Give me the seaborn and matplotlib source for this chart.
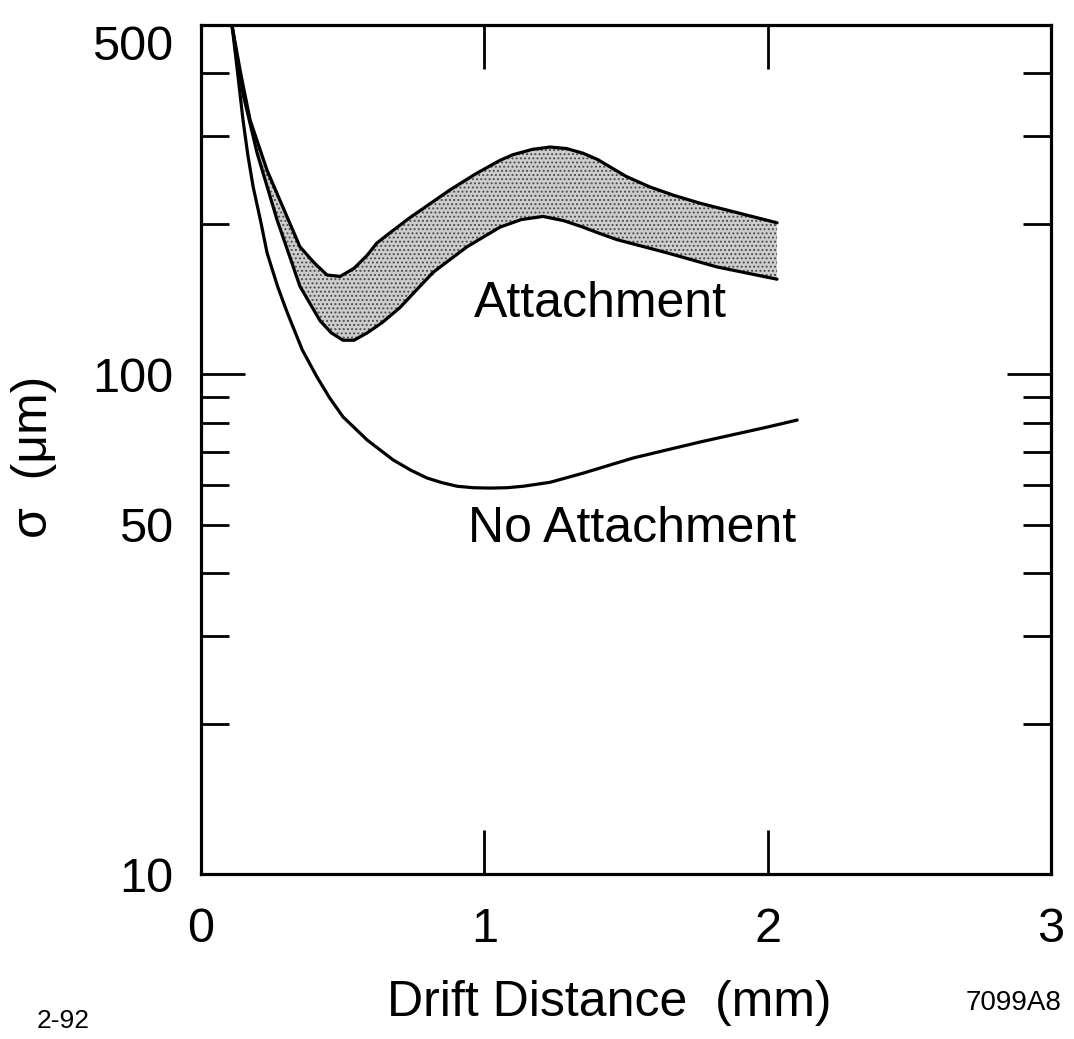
import numpy as np
import pandas as pd
import matplotlib
matplotlib.use("Agg")
import matplotlib.pyplot as plt
import seaborn as sns

# ---- data ----
no_att_x = [0.109, 0.125, 0.148, 0.165, 0.184, 0.21, 0.233, 0.27, 0.304, 0.357, 0.409,
            0.455, 0.501, 0.586, 0.678, 0.74, 0.798, 0.85, 0.904, 0.96, 1.020, 1.08,
            1.137, 1.232, 1.348, 1.525, 1.761, 1.998, 2.104]
no_att_y = [500, 420, 323, 275, 237, 203, 175, 150, 133, 112, 98.8,
            89.5, 82.2, 73.9, 67.4, 64.3, 62.0, 60.7, 59.7, 59.3, 59.2, 59.3,
            59.7, 60.8, 63.4, 68.0, 73.2, 78.4, 81.0]

att_up_x = [0.109, 0.14, 0.173, 0.233, 0.289, 0.349, 0.40, 0.445, 0.491, 0.54, 0.586,
            0.62, 0.667, 0.738, 0.879, 0.97, 1.055, 1.10, 1.17, 1.232, 1.29, 1.348,
            1.40, 1.444, 1.50, 1.585, 1.67, 1.761, 2.033]
att_up_y = [500, 400, 323, 256, 216, 180, 167, 158, 157, 163, 173,
            183, 192, 206, 234, 252, 268, 275, 282, 285, 283, 277,
            269, 260, 249, 237, 228, 220, 201]

att_lo_x = [0.109, 0.15, 0.198, 0.268, 0.349, 0.42, 0.46, 0.501, 0.54, 0.586, 0.64,
            0.702, 0.819, 0.939, 1.055, 1.13, 1.207, 1.28, 1.348, 1.40, 1.468,
            1.645, 1.821, 2.033]
att_lo_y = [500, 360, 277, 204, 150, 128, 121, 117, 117, 121, 127,
            136, 160, 180, 197, 204, 207, 203, 197, 192, 186,
            175, 164, 155]

x_ticks = [0, 1, 2, 3]
x_ticklabels = ["0", "1", "2", "3"]
y_major = [10, 100, 500]
y_major_labels = ["10", "100", "500"]
y_minor = [20, 30, 40, 50, 60, 70, 80, 90, 200, 300, 400]
y_minor_labels = ["", "", "", "50", "", "", "", "", "", "", ""]

# ---- style ----
sns.set_theme(style="white")
plt.rcParams["font.family"] = ["Liberation Sans", "DejaVu Sans"]
plt.rcParams["text.color"] = "black"
plt.rcParams["axes.labelcolor"] = "black"
plt.rcParams["hatch.linewidth"] = 0.9
plt.rcParams["hatch.color"] = "#4a4a4a"

fig = plt.figure(figsize=(10.74, 10.39), dpi=100)
ax = fig.add_axes([0.1872, 0.1588, 0.7914, 0.8171])

# band fill between the two attachment curves
common_x = np.array(att_up_x)
lo_on_up = np.exp(np.interp(common_x, att_lo_x, np.log(att_lo_y)))
ax.fill_between(common_x, lo_on_up, att_up_y, facecolor="#cdcdcd",
                hatch="....", edgecolor="#4a4a4a", linewidth=0, zorder=1)

df_no = pd.DataFrame({"x": no_att_x, "y": no_att_y})
df_up = pd.DataFrame({"x": att_up_x, "y": att_up_y})
df_lo = pd.DataFrame({"x": att_lo_x, "y": att_lo_y})
for d in (df_no, df_up, df_lo):
    sns.lineplot(data=d, x="x", y="y", ax=ax, color="black", linewidth=2.3,
                 sort=False, estimator=None, zorder=3)
for ln in ax.lines:
    ln.set_solid_joinstyle("round")

ax.set_yscale("log")
ax.set_xlim(0, 3)
ax.set_ylim(10, 500)

ax.set_xticks(x_ticks)
ax.set_xticklabels(x_ticklabels)
ax.set_yticks(y_major)
ax.set_yticklabels(y_major_labels)
ax.set_yticks(y_minor, minor=True)
ax.set_yticklabels(y_minor_labels, minor=True)
ax.set_xticks([], minor=True)

ax.tick_params(axis="both", which="both", direction="in", colors="black",
               labelsize=35, width=2.0)
ax.tick_params(axis="y", which="major", length=32, pad=20, left=True, right=True)
ax.tick_params(axis="y", which="minor", length=20, pad=20, left=True, right=True)
ax.tick_params(axis="x", which="major", length=32, pad=24, bottom=True, top=True)

for lab in ax.get_yticklabels():
    if lab.get_text() == "500":
        lab.set_va("top")

for s in ax.spines.values():
    s.set_visible(True)
    s.set_color("black")
    s.set_linewidth(2.3)

ax.set_xlabel("Drift Distance  (mm)", fontsize=36, color="black")
ax.xaxis.set_label_coords(0.48, -0.125)
ax.set_ylabel("σ  (μm)", fontsize=36, color="black")
ax.yaxis.set_label_coords(-0.17, 0.491)

ax.text(1.408, 138, "Attachment", fontsize=36, ha="center", va="center", color="black")
ax.text(1.521, 49, "No Attachment", fontsize=36, ha="center", va="center", color="black")

fig.text(63 / 1074, 1 - 1021 / 1039, "2-92", fontsize=19, ha="center", va="center", color="black")
fig.text(1014 / 1074, 1 - 1003 / 1039, "7099A8", fontsize=20, ha="center", va="center", color="black")

fig.savefig("out.png", dpi=100)
